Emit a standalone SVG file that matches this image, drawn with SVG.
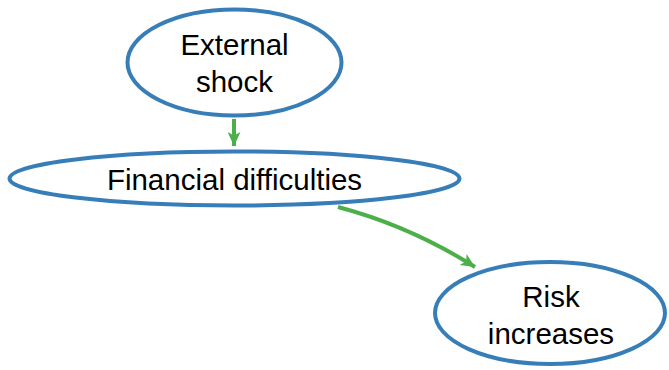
<svg xmlns="http://www.w3.org/2000/svg" width="669" height="370" viewBox="0 0 669 370">
<style>
.node ellipse{fill:#ffffff;stroke:#377eb8;stroke-width:4}
.node text{font-family:"Liberation Sans",Arial,sans-serif;font-size:29.5px;fill:#000;text-anchor:middle}
.edge{fill:none;stroke:#4daf4a;stroke-width:4}
</style>
<defs>
<marker id="ah" markerUnits="userSpaceOnUse" markerWidth="15" markerHeight="13" refX="14" refY="6.5" orient="auto" viewBox="0 0 15 13">
<path d="M0,0 L14,6.5 L0,13 L3.5,6.5 Z" fill="#4daf4a"/>
</marker>
</defs>
<rect width="669" height="370" fill="#ffffff"/>
<g id="connectors">
<path class="edge" d="M234,119 L234,146" marker-end="url(#ah)"/>
<path class="edge" d="M338,207 Q410,226 475,267" marker-end="url(#ah)"/>
</g>
<g id="n1" class="node">
<ellipse cx="234.5" cy="62.5" rx="107" ry="53"/>
<text x="234.5" y="55">External</text>
<text x="234.5" y="92">shock</text>
</g>
<g id="n2" class="node">
<ellipse cx="234.5" cy="178.5" rx="225" ry="27"/>
<text x="234.5" y="190">Financial difficulties</text>
</g>
<g id="n3" class="node">
<ellipse cx="550" cy="313" rx="115" ry="51"/>
<text x="551" y="307">Risk</text>
<text x="551" y="344">increases</text>
</g>
</svg>
